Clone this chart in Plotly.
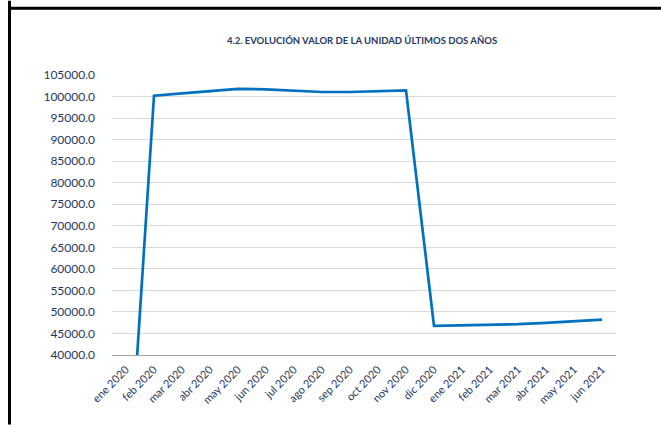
import plotly.graph_objects as go

categories = ["ene 2020", "feb 2020", "mar 2020", "abr 2020", "may 2020", "jun 2020",
              "jul 2020", "ago 2020", "sep 2020", "oct 2020", "nov 2020", "dic 2020",
              "ene 2021", "feb 2021", "mar 2021", "abr 2021", "may 2021", "jun 2021"]
valores = [0, 100200, 100750, 101350, 101800, 101650,
           101350, 101050, 101050, 101300, 101450, 46750,
           46850, 46950, 47150, 47450, 47800, 48200]

title_text = "4.2. EVOLUCIÓN VALOR DE LA UNIDAD ÚLTIMOS DOS AÑOS"
navy = "#1F3864"

W, H = 661, 425
L, R, T, B = 112, 45, 74.5, 69.7
pw, ph = W - L - R, H - T - B

def px_x(px):
    return (px - L) / pw

def px_y(py):
    return 1 - (py - T) / ph

fig = go.Figure()
fig.add_trace(go.Scatter(
    x=categories, y=valores, mode="lines",
    line=dict(color="#0070C0", width=2.7),
    hoverinfo="x+y", showlegend=False,
))

fig.update_layout(
    width=W, height=H,
    margin=dict(l=L, r=R, t=T, b=B),
    paper_bgcolor="white", plot_bgcolor="white",
    font=dict(family="Lato, 'Open Sans', sans-serif", color=navy),
    title=dict(text="<b>" + title_text + "</b>", x=px_x(362), xref="paper",
               xanchor="center", y=1 - 41 / H, yanchor="middle",
               font=dict(size=9.5, color=navy)),
    xaxis=dict(type="category", showgrid=False, showline=True,
               linecolor="#A6A6A6", linewidth=1, tickangle=-45,
               tickfont=dict(size=11, color=navy), ticks="",
               ticklabelstandoff=3,
               range=[-0.5, len(categories) - 0.5], fixedrange=True),
    yaxis=dict(range=[40000, 105000], dtick=5000, tickformat=".1f",
               showgrid=True, gridcolor="#D9D9D9", gridwidth=1,
               zeroline=False, showline=False, ticks="",
               tickfont=dict(size=12, color=navy), ticklabelstandoff=16,
               fixedrange=True),
    shapes=[
        dict(type="line", xref="paper", yref="paper",
             x0=px_x(9.5), x1=px_x(9.5), y0=px_y(0), y1=px_y(H),
             line=dict(color="black", width=3)),
        dict(type="line", xref="paper", yref="paper",
             x0=px_x(8), x1=px_x(W), y0=px_y(7.5), y1=px_y(7.5),
             line=dict(color="black", width=3)),
    ],
)

fig.write_html("out.html", config={"displayModeBar": False},
               post_script="document.body.style.margin='0';document.body.style.overflow='hidden';")
